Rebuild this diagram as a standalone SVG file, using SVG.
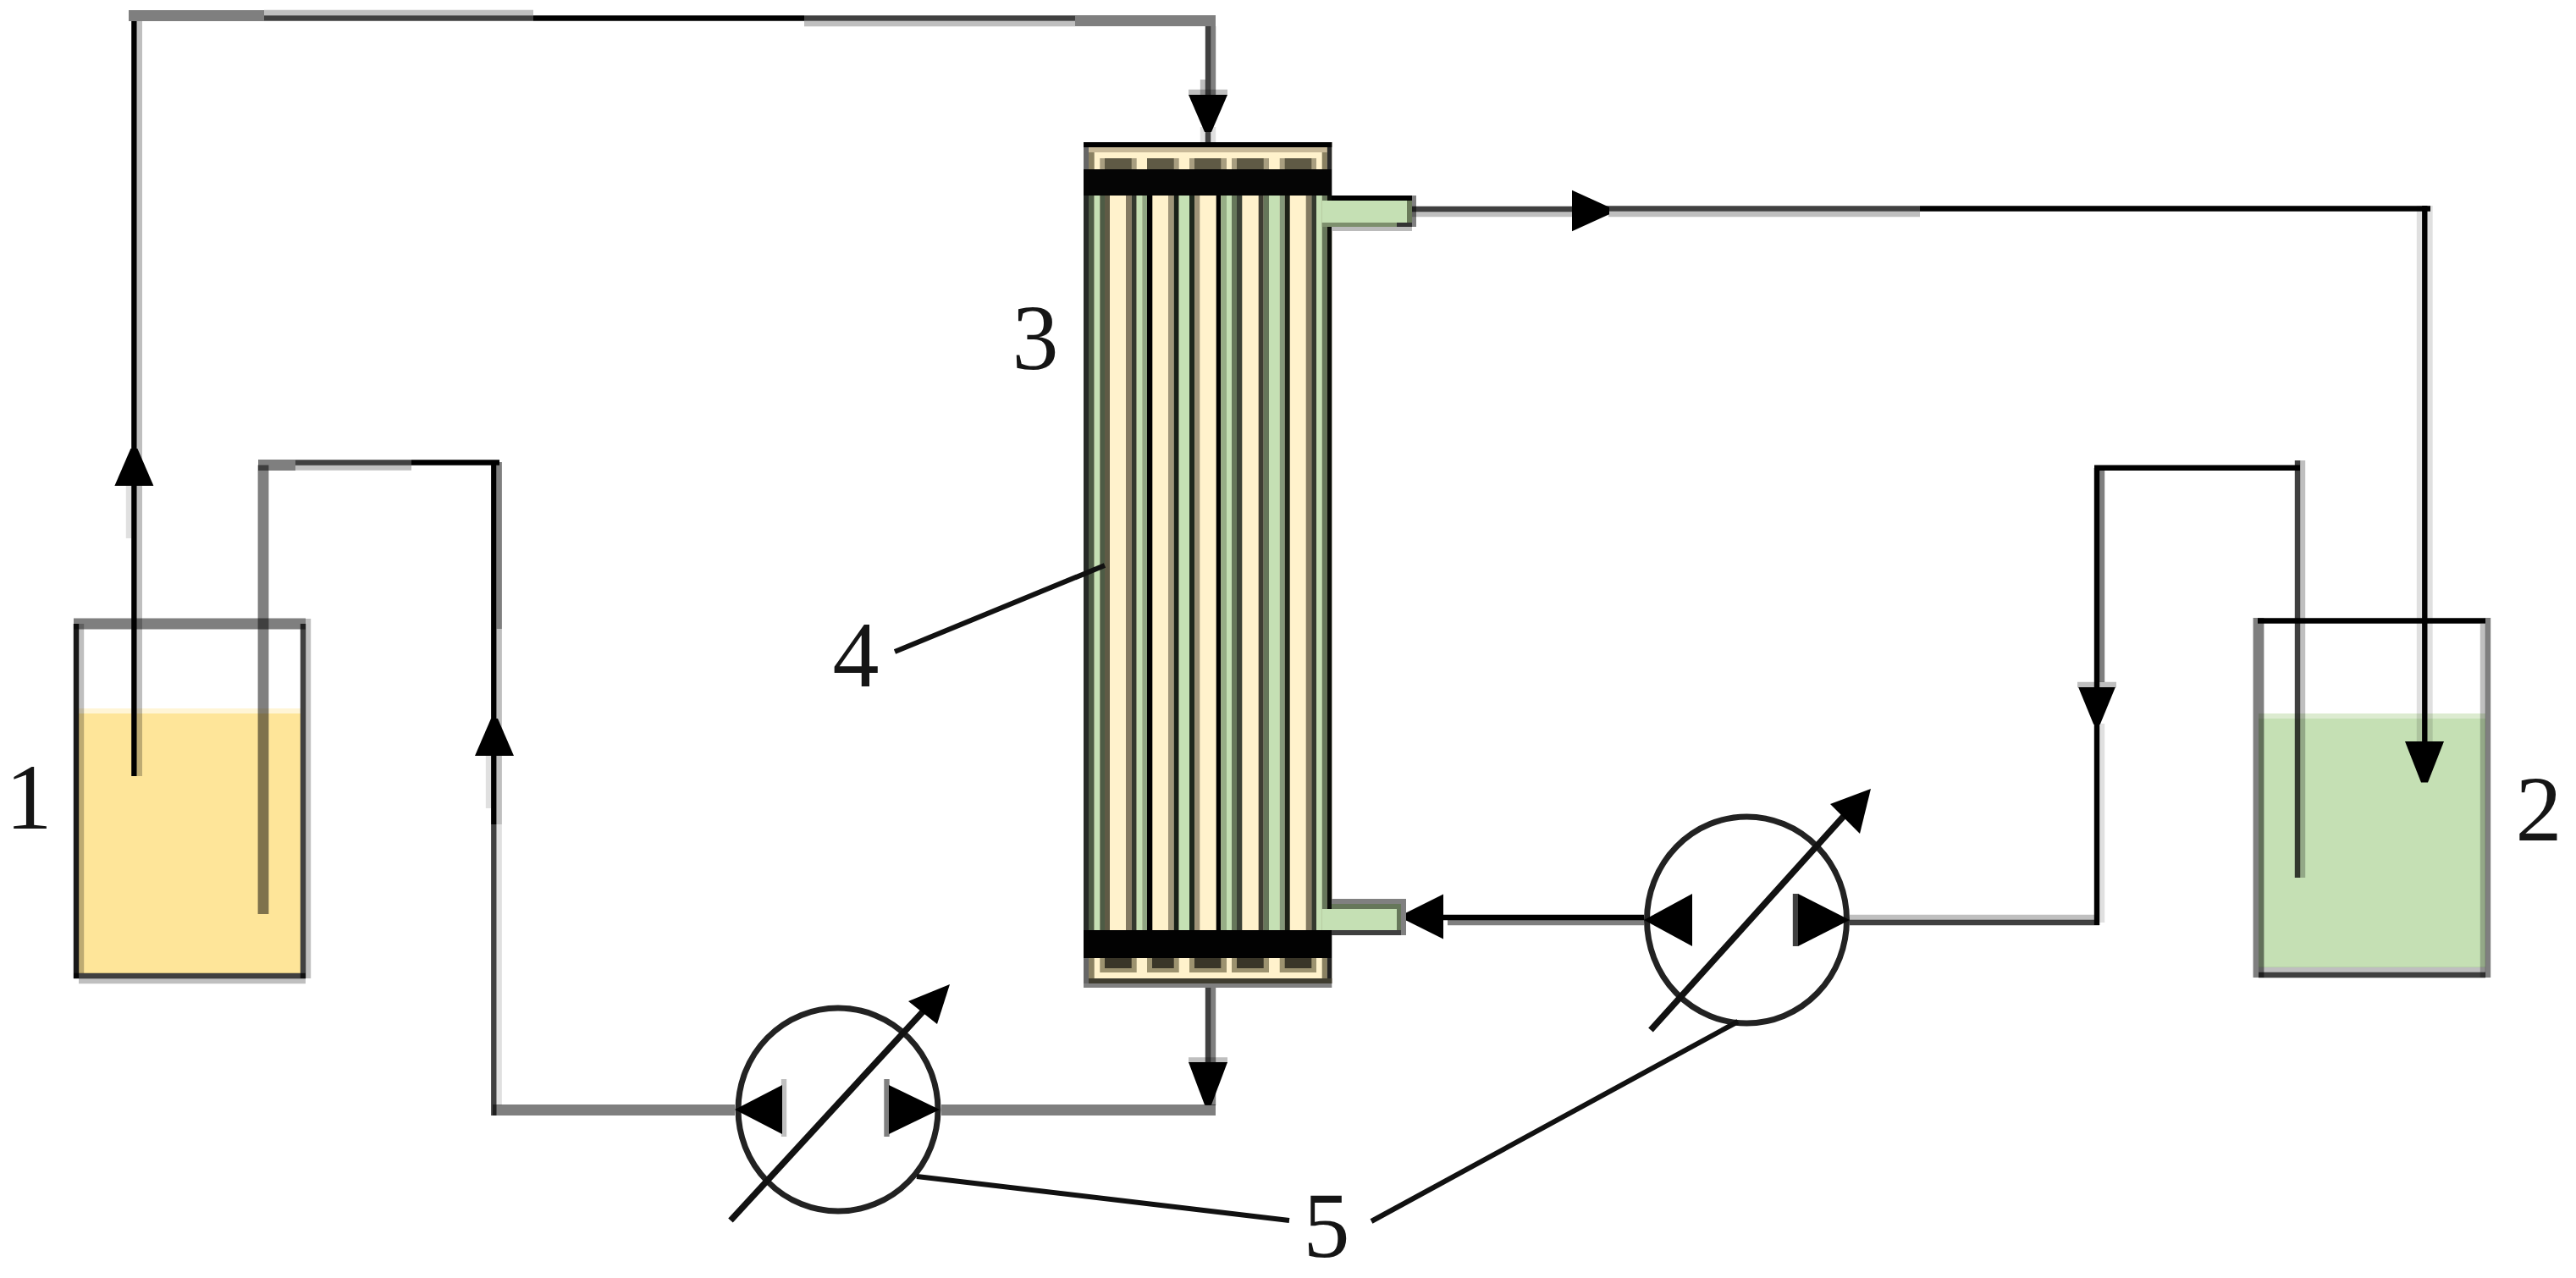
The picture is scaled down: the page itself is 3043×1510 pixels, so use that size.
<svg xmlns="http://www.w3.org/2000/svg" width="3043" height="1510" viewBox="0 0 3043 1510">
<style>
.k,.d,.g,.l,.v{fill:none;stroke:#000;stroke-width:6.4}
.d{stroke-opacity:.75}
.g{stroke-opacity:.5}
.l{stroke-opacity:.25}
.v{stroke-opacity:.12}
.w{fill:none;stroke:#000;stroke-opacity:.5;stroke-width:12.8}
.thin{fill:none;stroke:#111;stroke-width:6}
.diag{fill:none;stroke:#111;stroke-width:7.5}
.ring{fill:none;stroke:#222;stroke-width:7}
.tri{fill:#000}
.lab{font-family:"Liberation Serif","Times New Roman",serif;font-size:110px;fill:#151515;text-anchor:middle}
.cream{fill:#fff2cc}
.green{fill:#c5e0b4}
</style>
<defs>
<polygon id="head" class="tri" points="-23,0 23,0 4,44 -4,44"/>
</defs>
<rect width="3043" height="1510" fill="#fff"/>

<g id="tank-1">
<rect x="93" y="837" width="262" height="6" fill="#fff5d6"/>
<rect x="93" y="843" width="262" height="307" fill="#fee599"/>
<path class="k" d="M90 737V1156" stroke-opacity=".9"/>
<path class="l" d="M96 737V1150"/>
<path class="d" d="M358 737V1156"/>
<path class="l" d="M364 731V1156"/>
<path class="w" d="M87 737H361"/>
<path class="d" d="M87 1153H361"/>
<path class="l" d="M93 1159H361"/>
</g>

<g id="tank-2">
<rect x="2668" y="843" width="268" height="6" fill="#dcebd0"/>
<rect x="2668" y="849" width="268" height="294" class="green"/>
<path class="w" d="M2668 730V1155"/>
<path class="l" d="M2933 737V1155"/>
<path class="g" d="M2939 730V1155"/>
<path class="k" d="M2667 733.500H2936"/>
<path class="l" d="M2668 1146H2936"/>
<path class="d" d="M2668 1152H2936"/>
</g>

<g id="module-3">
<rect x="1280" y="231" width="293.300" height="868" class="cream"/>
<g id="module-stripes">
<rect x="1280" y="231" width="6" height="868" fill="#262a26"/>
<rect x="1286" y="231" width="6.700" height="868" fill="#4d5b45"/>
<rect x="1292.700" y="231" width="6.600" height="868" class="green"/>
<rect x="1299.300" y="231" width="5.700" height="868" fill="#4d5b45"/>
<rect x="1305" y="231" width="6" height="868" fill="#5f5a45"/>
<rect x="1330" y="231" width="6.700" height="868" fill="#847a62"/>
<rect x="1336.700" y="231" width="6" height="868" fill="#33392f"/>
<rect x="1342.700" y="231" width="6.600" height="868" class="green"/>
<rect x="1349.300" y="231" width="5.700" height="868" fill="#8fa582"/>
<rect x="1355" y="231" width="6.300" height="868" fill="#000"/>
<rect x="1380" y="231" width="6.700" height="868" fill="#9f9579"/>
<rect x="1386.700" y="231" width="6" height="868" fill="#1a2018"/>
<rect x="1392.700" y="231" width="12.300" height="868" class="green"/>
<rect x="1405" y="231" width="6" height="868" fill="#1f2a1e"/>
<rect x="1411" y="231" width="6.300" height="868" fill="#9f9579"/>
<rect x="1436.700" y="231" width="5.600" height="868" fill="#000"/>
<rect x="1442.300" y="231" width="6.700" height="868" fill="#97ae86"/>
<rect x="1449" y="231" width="6" height="868" class="green"/>
<rect x="1455" y="231" width="6" height="868" fill="#66775a"/>
<rect x="1461" y="231" width="6.300" height="868" fill="#3a4035"/>
<rect x="1486.700" y="231" width="6" height="868" fill="#3f3e33"/>
<rect x="1492.700" y="231" width="6.300" height="868" fill="#66775a"/>
<rect x="1499" y="231" width="12.700" height="868" class="green"/>
<rect x="1511.700" y="231" width="6" height="868" fill="#84987a"/>
<rect x="1517.700" y="231" width="6" height="868" fill="#1e2218"/>
<rect x="1542.700" y="231" width="6.600" height="868" fill="#827a62"/>
<rect x="1549.300" y="231" width="5.700" height="868" fill="#33392f"/>
<rect x="1555" y="231" width="6.700" height="868" class="green"/>
<rect x="1561.700" y="231" width="6" height="868" fill="#66775a"/>
<rect x="1567.700" y="231" width="5.600" height="868" fill="#0a0d08"/>
</g>
<g id="cap-top">
<rect x="1280" y="168" width="293.300" height="32" class="cream"/>
<rect x="1280" y="168" width="6" height="32" fill="#666"/>
<rect x="1286" y="174" width="6.700" height="26" fill="#8a8162"/>
<rect x="1561.700" y="174" width="6" height="26" fill="#8a8162"/>
<rect x="1567.700" y="168" width="5.600" height="32" fill="#2a2a2a"/>
<rect x="1286" y="174" width="281.700" height="6" fill="#c8b998"/>
<rect x="1299.300" y="187" width="43.400" height="13" fill="#a89e80"/>
<rect x="1355" y="187" width="37.700" height="13" fill="#a89e80"/>
<rect x="1405" y="187" width="44" height="13" fill="#a89e80"/>
<rect x="1455" y="187" width="44" height="13" fill="#a89e80"/>
<rect x="1511.700" y="187" width="43.300" height="13" fill="#a89e80"/>
<rect x="1305" y="187" width="31.700" height="13" fill="#5f5a45"/>
<rect x="1355" y="187" width="31.700" height="13" fill="#5f5a45"/>
<rect x="1411" y="187" width="31.300" height="13" fill="#5f5a45"/>
<rect x="1461" y="187" width="31.700" height="13" fill="#5f5a45"/>
<rect x="1517.700" y="187" width="31.600" height="13" fill="#5f5a45"/>
<rect x="1280" y="168" width="293.300" height="6" fill="#000"/>
<rect x="1280" y="200" width="293.300" height="31" fill="#050505"/>
</g>
<g id="cap-bottom">
<rect x="1280" y="1132" width="293.300" height="30" class="cream"/>
<rect x="1280" y="1132" width="6" height="35" fill="#666"/>
<rect x="1286" y="1132" width="6.700" height="30" fill="#8a8162"/>
<rect x="1561.700" y="1132" width="6" height="30" fill="#8a8162"/>
<rect x="1567.700" y="1132" width="5.600" height="30" fill="#222"/>
<rect x="1299.300" y="1132" width="43.400" height="17" fill="#9c926f"/>
<rect x="1355" y="1132" width="37.700" height="17" fill="#9c926f"/>
<rect x="1405" y="1132" width="44" height="17" fill="#9c926f"/>
<rect x="1455" y="1132" width="44" height="17" fill="#9c926f"/>
<rect x="1511.700" y="1132" width="43.300" height="17" fill="#9c926f"/>
<rect x="1305" y="1132" width="31.700" height="12" fill="#3a3628"/>
<rect x="1361" y="1132" width="25.700" height="12" fill="#3a3628"/>
<rect x="1411" y="1132" width="31.300" height="12" fill="#3a3628"/>
<rect x="1461" y="1132" width="31.700" height="12" fill="#3a3628"/>
<rect x="1517.700" y="1132" width="31.600" height="12" fill="#3a3628"/>
<rect x="1280" y="1099" width="293.300" height="33" fill="#020202"/>
<rect x="1286" y="1156" width="287.300" height="6" fill="#3f3d30"/>
<rect x="1280" y="1162" width="293.300" height="5" fill="#808080"/>
</g>
<g id="port-top">
<rect x="1561.700" y="237" width="100.300" height="26" class="green"/>
<rect x="1573" y="231" width="95" height="6" fill="#000"/>
<rect x="1561.700" y="263" width="88.300" height="5" fill="#7d8f6d"/>
<rect x="1650" y="263" width="18" height="5" fill="#333"/>
<rect x="1662" y="237" width="6" height="26" fill="#6a7a5a"/>
<rect x="1668" y="231" width="5" height="37" fill="#808080"/>
<rect x="1573" y="268" width="95" height="5" fill="#bbb"/>
</g>
<g id="port-bottom">
<rect x="1561.700" y="1074" width="88.300" height="25" class="green"/>
<rect x="1573" y="1062" width="82" height="6" fill="#808080"/>
<rect x="1573" y="1068" width="77" height="6" fill="#66775a"/>
<rect x="1650" y="1068" width="5" height="31" fill="#66775a"/>
<rect x="1655" y="1062" width="6" height="43" fill="#808080"/>
<rect x="1573" y="1099" width="82" height="6" fill="#3f3f3f"/>
</g>
</g>

<g id="connectors">
<path class="w" d="M152 18.500H312"/>
<path class="l" d="M312 15H630"/>
<path class="d" d="M312 21.500H630"/>
<path class="k" d="M630 21.500H950"/>
<path class="d" d="M950 21.500H1270"/>
<path class="l" d="M950 28H1270"/>
<path class="w" d="M1270 24.500H1436"/>
<path class="k" d="M158.400 25V917"/>
<path class="l" d="M164.800 25V917"/>
<path class="v" d="M152 574V636"/>
<use href="#head" transform="translate(158.400 574) rotate(180)"/>
<path class="d" d="M1427 31V168"/>
<path class="g" d="M1433 31V112"/>
<path class="l" d="M1421 94V112"/>
<path class="l" d="M1404 109H1450"/>
<path class="v" d="M1421 150V168M1433 150V168"/>
<use href="#head" transform="translate(1427 112)"/>

<path class="w" d="M311 549.500V1080"/>
<path class="w" d="M305 549.500H349"/>
<path class="d" d="M349 546.500H486"/>
<path class="l" d="M349 552.500H486"/>
<path class="k" d="M486 546.500H590"/>
<path class="k" d="M583.300 546V974"/>
<path class="g" d="M589.700 546V743"/>
<path class="l" d="M589.700 743V974"/>
<path class="d" d="M583.300 974V1318"/>
<path class="v" d="M589.700 974V1306"/>
<path class="v" d="M577 893V955"/>
<use href="#head" transform="translate(584 893) rotate(180)"/>
<path class="w" d="M582 1311.500H868"/>
<path class="w" d="M1112 1311.500H1436"/>
<path class="d" d="M1427 1167V1306"/>
<path class="g" d="M1433 1167V1306"/>
<path class="l" d="M1404 1252.500H1450"/>
<use href="#head" transform="translate(1427 1255) scale(1 1.15)"/>

<path class="d" d="M1668 247H1857"/>
<path class="l" d="M1668 253H1857"/>
<path class="d" d="M1857 246.500H2268"/>
<path class="l" d="M1900 253H2268"/>
<path class="k" d="M2268 246.500H2871"/>
<path class="k" d="M2864.300 243V880"/>
<path class="v" d="M2858 243V876M2870.500 243V876"/>
<use href="#head" transform="translate(2864 876) scale(1 1.1)"/>
<use href="#head" transform="translate(1857 249) rotate(-90) scale(1.05 1)"/>

<path class="k" d="M1661 1084H1710"/>
<path class="k" d="M1710 1084H1942"/>
<path class="g" d="M1710 1090H1942"/>
<path class="l" d="M2185 1084H2478"/>
<path class="d" d="M2185 1090H2480"/>
<use href="#head" transform="translate(1705 1083) rotate(90) scale(1.15 1)"/>
<path class="k" d="M2477 553V815"/>
<path class="g" d="M2483 556V806"/>
<path class="k" d="M2474 552.700H2717"/>
<path class="d" d="M2714 544V1037"/>
<path class="l" d="M2720 544V1037"/>
<path class="k" d="M2477 850V1093"/>
<path class="v" d="M2483 855V1090"/>
<path class="l" d="M2454 809H2500"/>
<use href="#head" transform="translate(2477 812) scale(.95 1)"/>
</g>

<g id="pump-5a">
<ellipse class="ring" cx="990" cy="1311" rx="118" ry="120"/>
<path class="diag" d="M863 1442L1095 1190"/>
<polygon class="tri" points="1122,1163 1073,1183 1107,1210"/>
<polygon class="tri" points="868,1311 924,1282 924,1340"/>
<path class="l" d="M926 1275V1343" stroke-width="5" stroke-opacity=".45"/>
<polygon class="tri" points="1110,1311 1050,1282 1050,1340"/>
<path class="g" d="M1047.500 1275V1343" stroke-width="5"/>
</g>

<g id="pump-5b">
<ellipse class="ring" cx="2063.500" cy="1087" rx="118" ry="122"/>
<path class="diag" d="M1950 1217L2180 962"/>
<polygon class="tri" points="2210,932 2162,950 2197,985"/>
<polygon class="tri" points="1942,1087 1999,1056 1999,1118"/>
<polygon class="tri" points="2185,1087 2124,1056 2124,1118"/>
<path class="d" d="M2121 1056V1118"/>
</g>

<g id="leaders">
<path class="thin" d="M1083 1390L1523 1442"/>
<path class="thin" d="M1620 1443L2053 1207"/>
<path class="thin" d="M1057 770L1305 668"/>
</g>

<g id="labels">
<text class="lab" x="34" y="979">1</text>
<text class="lab" x="2999" y="993">2</text>
<text class="lab" x="1223" y="436">3</text>
<text class="lab" x="1011" y="811">4</text>
<text class="lab" x="1567" y="1485">5</text>
</g>
</svg>
